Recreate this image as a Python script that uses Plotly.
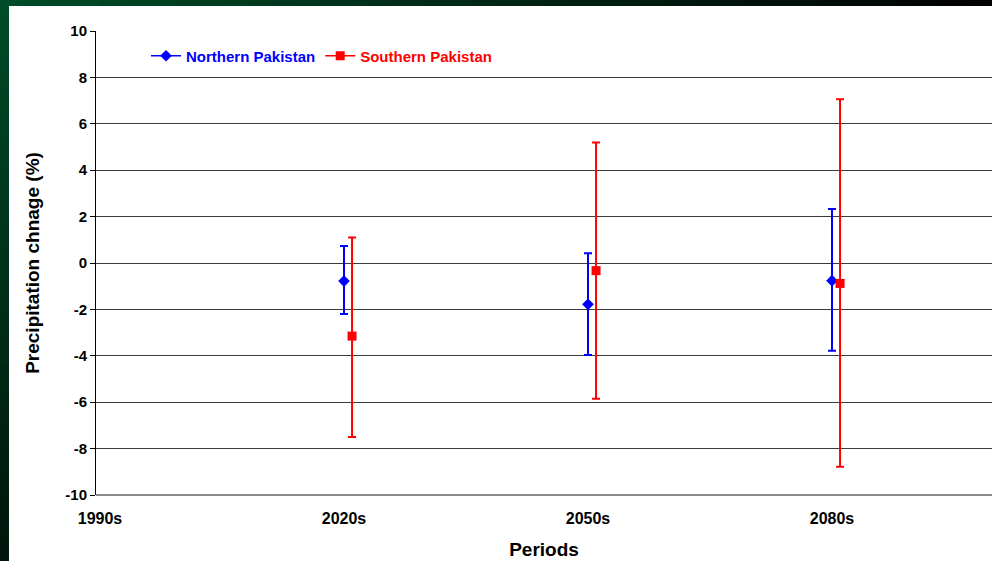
import plotly.graph_objects as go

# ---- data ----
periods = ["1990s", "2020s", "2050s", "2080s"]
period_pos = [0, 1, 2, 3]

north_x = [1, 2, 3]
north_mean = [-0.78, -1.78, -0.76]
north_upper = [0.73, 0.42, 2.33]
north_lower = [-2.2, -3.97, -3.78]

south_x = [1.033, 2.033, 3.033]
south_mean = [-3.15, -0.33, -0.88]
south_upper = [1.1, 5.19, 7.06]
south_lower = [-7.5, -5.85, -8.78]

y_ticks = [10, 8, 6, 4, 2, 0, -2, -4, -6, -8, -10]
y_tick_text = ["10", "8", "6", "4", "2", "0", "-2", "-4", "-6", "-8", "-10"]


def gapped(vals):
    out = []
    for i, v in enumerate(vals):
        if i:
            out.append(None)
        out.append(v)
    return out


def series(xs, mean, up, lo, color, symbol, name, size):
    return go.Scatter(
        x=gapped(xs),
        y=gapped(mean),
        mode="lines+markers",
        connectgaps=False,
        name=name,
        line=dict(color=color, width=1.5),
        marker=dict(symbol=symbol, color=color, size=size),
        error_y=dict(
            type="data",
            symmetric=False,
            array=gapped([u - m for u, m in zip(up, mean)]),
            arrayminus=gapped([m - l for m, l in zip(mean, lo)]),
            color=color,
            thickness=2,
            width=4,
        ),
    )


fig = go.Figure()
fig.add_trace(series(north_x, north_mean, north_upper, north_lower, "#0000FF",
                     "diamond", "<b><span style='color:#0000FF'>Northern Pakistan</span></b>", 9))
fig.add_trace(series(south_x, south_mean, south_upper, south_lower, "#FF0000",
                     "square", "<b><span style='color:#FF0000'>Southern Pakistan</span></b>", 9))

W, H = 992, 561
L, R, T, B = 96, 0, 31, 66
pw, ph = W - L - R, H - T - B


def px_x(p):
    return (p - L) / pw


def px_y(p):
    return (H - B - p) / ph


shapes = []
# dark green gradient frame: top strip bands
n = 40
for i in range(n):
    f = i / (n - 1)
    r, g, b = 0, int(75 * (1 - f) + 2 * f), int(40 * (1 - f) + 2 * f)
    shapes.append(dict(type="rect", xref="paper", yref="paper", layer="below",
                       x0=px_x(W * i / n), x1=px_x(W * (i + 1) / n) + 0.001,
                       y0=px_y(8), y1=px_y(-1), line=dict(width=0),
                       fillcolor=f"rgb({r},{g},{b})"))
# left strip bands
for i in range(n):
    f = i / (n - 1)
    r, g, b = 0, int(75 * (1 - f) + 22 * f), int(40 * (1 - f) + 12 * f)
    shapes.append(dict(type="rect", xref="paper", yref="paper", layer="below",
                       x0=px_x(-1), x1=px_x(9),
                       y0=px_y(H * (i + 1) / n + 1), y1=px_y(H * i / n), line=dict(width=0),
                       fillcolor=f"rgb({r},{g},{b})"))
# white chart area
shapes.append(dict(type="rect", xref="paper", yref="paper", layer="below",
                   x0=px_x(9), x1=px_x(W + 2), y0=px_y(H + 2), y1=px_y(6),
                   line=dict(width=0), fillcolor="white"))
# bottom axis line (gray)
shapes.append(dict(type="line", xref="paper", yref="paper", x0=0, x1=1, y0=0, y1=0,
                   line=dict(color="#8a8a8a", width=2)))

unit = 244.0
x0_px = 100.0

fig.update_layout(
    width=W, height=H,
    margin=dict(l=L, r=R, t=T, b=B, pad=0),
    paper_bgcolor="#00331a",
    plot_bgcolor="white",
    font=dict(family="Liberation Sans, Arial, sans-serif", color="black"),
    shapes=shapes,
    showlegend=True,
    legend=dict(
        orientation="h", x=px_x(146), y=px_y(56), xanchor="left", yanchor="middle",
        bgcolor="rgba(0,0,0,0)", font=dict(size=15), itemwidth=30,
        tracegroupgap=0,
    ),
    xaxis=dict(
        range=[(L - x0_px) / unit, (W - x0_px) / unit],
        tickvals=period_pos, ticktext=[f"<b>{p}</b>" for p in periods],
        showgrid=False, zeroline=False, showline=False,
        ticks="", tickfont=dict(size=16), ticklabelstandoff=12,
        title=dict(text="<b>Periods</b>", font=dict(size=19), standoff=16),
        automargin=False,
    ),
    yaxis=dict(
        range=[-10, 10],
        tickvals=y_ticks, ticktext=[f"<b>{t}</b>" for t in y_tick_text],
        showgrid=True, gridcolor="#3c3c3c", gridwidth=1,
        zeroline=False, showline=True, linecolor="black", linewidth=1,
        ticks="outside", ticklen=5, tickcolor="black",
        tickfont=dict(size=15),
        title=dict(text="<b>Precipitation chnage (%)</b>", font=dict(size=19), standoff=20),
        automargin=False,
    ),
)

fig.write_html("out.html")
